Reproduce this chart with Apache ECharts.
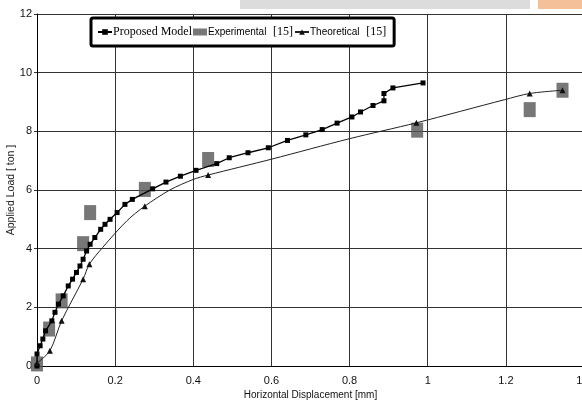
<!DOCTYPE html>
<html>
<head>
<meta charset="utf-8">
<script src="https://cdn.jsdelivr.net/npm/echarts/dist/echarts.min.js"></script>
<style>
  html, body { margin: 0; padding: 0; background: #fff; }
  #chart { width: 582px; height: 404px; }
</style>
</head>
<body>
<div id="chart"></div>
<script>
// Proposed model (black line with small square markers)
var propX = [0, 0.0, 0.008, 0.015, 0.022, 0.038, 0.046, 0.055, 0.067, 0.080, 0.091, 0.101, 0.110, 0.118, 0.127,
  0.136, 0.148, 0.163, 0.174, 0.187, 0.205, 0.225, 0.244, 0.296, 0.330, 0.367, 0.407, 0.460, 0.492, 0.540,
  0.592, 0.641, 0.688, 0.730, 0.768, 0.806, 0.828, 0.860, 0.888, 0.888, 0.911, 0.988];
var propY = [0, 0.41, 0.69, 0.92, 1.20, 1.54, 1.83, 2.11, 2.39, 2.73, 2.96, 3.19, 3.41, 3.64, 3.92,
  4.15, 4.38, 4.66, 4.83, 5.00, 5.23, 5.51, 5.68, 6.04, 6.27, 6.47, 6.67, 6.90, 7.10, 7.27,
  7.44, 7.69, 7.88, 8.06, 8.28, 8.49, 8.66, 8.88, 9.04, 9.29, 9.48, 9.65];

// Experimental [15] (large grey squares)
var expX = [0, 0.031, 0.063, 0.118, 0.136, 0.276, 0.438, 0.973, 1.261, 1.345];
var expY = [0.07, 1.26, 2.22, 4.17, 5.23, 6.02, 7.04, 8.04, 8.74, 9.40];

// Theoretical [15] (thin line with triangles, marks only where drawn)
var theoX = [0, 0.033, 0.063, 0.118, 0.134, 0.168, 0.230, 0.276, 0.340, 0.400, 0.438, 0.600, 0.800, 0.971, 1.197, 1.261, 1.345];
var theoY = [0.10, 0.52, 1.54, 2.96, 3.47, 4.04, 4.95, 5.45, 6.00, 6.36, 6.51, 7.05, 7.75, 8.29, 9.08, 9.29, 9.40];
var theoMark = [1, 1, 1, 1, 1, 0, 0, 1, 0, 0, 1, 0, 0, 1, 0, 1, 1];

var xTicks = ['0', '0.2', '0.4', '0.6', '0.8', '1', '1.2', '1.4'];

var narrow = "'Liberation Sans Narrow', 'Arial Narrow', 'Liberation Sans', Arial, sans-serif";
var serif = "'Liberation Serif', 'Times New Roman', serif";

var chart = echarts.init(document.getElementById('chart'));

var propData = propX.map(function (x, i) { return [x, propY[i]]; });
var expData = expX.map(function (x, i) { return [x, expY[i]]; });
var theoData = theoX.map(function (x, i) {
  return theoMark[i] ? [x, theoY[i]] : { value: [x, theoY[i]], symbol: 'none' };
});

var option = {
  animation: false,
  backgroundColor: '#fff',
  graphic: [
    { type: 'rect', shape: { x: 240, y: 0, width: 290, height: 9 }, style: { fill: '#dcdcdc' }, z: -10 },
    { type: 'rect', shape: { x: 538, y: 0, width: 44, height: 9 }, style: { fill: '#f4c09a' }, z: -10 }
  ],
  grid: { left: 37, right: -2, top: 14, bottom: 38, containLabel: false, outerBoundsMode: 'none' },
  legend: {
    left: 91, top: 18,
    padding: [8, 8, 8, 6],
    borderColor: '#000', borderWidth: 3, borderRadius: 2,
    backgroundColor: '#fff',
    itemGap: 1, itemWidth: 14, itemHeight: 7,
    data: [
      { name: 'Proposed Model' },
      { name: 'Experimental', icon: 'rect' },
      { name: 'Theoretical' }
    ],
    formatter: function (name) {
      if (name === 'Proposed Model') return '{s|' + name + '}';
      return '{n|' + name + '}  {r|[15]}';
    },
    textStyle: {
      color: '#000',
      padding: [0, 0, 0, -4],
      rich: {
        s: { fontFamily: serif, fontSize: 12, color: '#000' },
        n: { fontFamily: narrow, fontSize: 10, color: '#000' },
        r: { fontFamily: serif, fontSize: 12, color: '#000' }
      }
    }
  },
  xAxis: {
    type: 'value', min: 0, max: 1.4, interval: 0.2,
    name: 'Horizontal Displacement [mm]', nameLocation: 'middle', nameGap: 24,
    nameMoveOverlap: false,
    nameTextStyle: { fontFamily: narrow, fontSize: 10, color: '#111' },
    axisLine: { lineStyle: { color: '#000', width: 1 } },
    axisTick: { show: false },
    axisLabel: {
      fontFamily: narrow, fontSize: 11, color: '#111', margin: 9,
      formatter: function (v) { return xTicks[Math.round(v / 0.2)]; }
    },
    splitLine: { lineStyle: { color: '#333', width: 1 } }
  },
  yAxis: {
    type: 'value', min: 0, max: 12, interval: 2,
    name: 'Applied Load [ ton ]', nameLocation: 'middle', nameGap: 20, nameRotate: 90,
    nameMoveOverlap: false,
    nameTextStyle: { fontFamily: "'Liberation Sans', Arial, sans-serif", fontSize: 10.5, color: '#222' },
    axisLine: { show: true, lineStyle: { color: '#000', width: 1 } },
    axisTick: { show: true, length: 3, lineStyle: { color: '#333' } },
    axisLabel: { fontFamily: narrow, fontSize: 11, color: '#111', margin: 5 },
    splitLine: { lineStyle: { color: '#333', width: 1 } }
  },
  series: [
    {
      name: 'Experimental', type: 'scatter',
      symbol: 'rect', symbolSize: [12, 15],
      itemStyle: { color: '#555' },
      data: expData, z: 2
    },
    {
      name: 'Proposed Model', type: 'line',
      symbol: 'rect', symbolSize: 5, showAllSymbol: true,
      lineStyle: { color: '#000', width: 1.3 },
      itemStyle: { color: '#000' },
      data: propData, z: 3
    },
    {
      name: 'Theoretical', type: 'line', smooth: 0.3,
      symbol: 'triangle', symbolSize: 6, showAllSymbol: true,
      lineStyle: { color: '#222', width: 1 },
      itemStyle: { color: '#111' },
      data: theoData, z: 4
    }
  ]
};

chart.setOption(option);
</script>
</body>
</html>
